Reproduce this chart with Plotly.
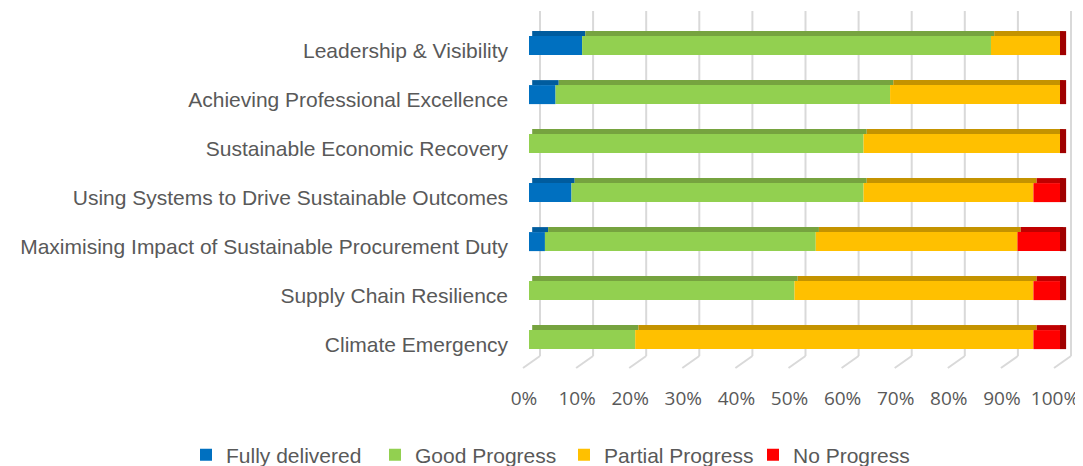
import numpy as np
import plotly.graph_objects as go

categories = [
    "Leadership & Visibility",
    "Achieving Professional Excellence",
    "Sustainable Economic Recovery",
    "Using Systems to Drive Sustainable Outcomes",
    "Maximising Impact of Sustainable Procurement Duty",
    "Supply Chain Resilience",
    "Climate Emergency",
]
fully_delivered = [10, 5, 0, 8, 3, 0, 0]
good_progress = [77, 63, 63, 55, 51, 50, 20]
partial_progress = [13, 32, 37, 32, 38, 45, 75]
no_progress = [0, 0, 0, 5, 8, 5, 5]
series_names = ["Fully delivered", "Good Progress", "Partial Progress", "No Progress"]
tick_values = list(range(0, 101, 10))
tick_labels = [f"{v}%" for v in tick_values]

front_colors = ["#0070C0", "#92D050", "#FFC000", "#FF0000"]
top_colors = ["#005C9E", "#76A33F", "#C49300", "#C00000"]
side_color = "#A00000"

# the page body has an 8px margin; work in screen pixels and convert
OFF = 8
W, H = 1083 - OFF, 480


def px_x(sx):
    return (sx - OFF) / W


def px_y(sy):
    return 1 - (sy - OFF) / H


series = [fully_delivered, good_progress, partial_progress, no_progress]
vals = np.array(series, dtype=float)
bases = np.vstack([np.zeros(vals.shape[1]), np.cumsum(vals, axis=0)[:-1]])
totals = vals.sum(axis=0)

# x scale: 0 -> 529 px, 100 -> 1060 px, with a little room either side
x0_px, x100_px = 529, 1060
ppu = (x100_px - x0_px) / 100
x_range = [-3, 103]
dom_left_px = x0_px + x_range[0] * ppu
x_dom = [px_x(dom_left_px), px_x(x0_px + x_range[1] * ppu)]
y_standoff = int(round(20 - (x0_px - dom_left_px)))

bar_w = 0.388
top_w = 0.102
lift = 0.10
bar_off = -bar_w / 2 - lift
top_off = bar_off - top_w

fig = go.Figure()
for i, name in enumerate(series_names):
    fig.add_trace(go.Bar(
        y=categories, x=vals[i], base=bases[i], orientation="h", name=name,
        width=bar_w, offset=bar_off,
        marker=dict(color=front_colors[i], line=dict(width=0)),
        hoverinfo="skip",
    ))
for i, name in enumerate(series_names):
    fig.add_trace(go.Bar(
        y=categories, x=vals[i], base=bases[i] + 0.6, orientation="h",
        width=top_w, offset=top_off, showlegend=False,
        marker=dict(color=top_colors[i], line=dict(width=0)), hoverinfo="skip",
    ))
fig.add_trace(go.Bar(
    y=categories, x=[1.15] * len(categories), base=totals, orientation="h",
    width=bar_w + top_w, offset=top_off, showlegend=False,
    marker=dict(color=side_color, line=dict(width=0)), hoverinfo="skip",
))

grid_top = px_y(11)
grid_bot = px_y(356)
shapes = []
for v in tick_values:
    shapes.append(dict(type="line", layer="below", xref="x", xsizemode="pixel",
                       xanchor=v, x0=11, x1=11, yref="paper", y0=grid_bot, y1=grid_top,
                       line=dict(color="#D9D9D9", width=2)))
    shapes.append(dict(type="line", layer="below", xref="x", xsizemode="pixel",
                       xanchor=v, x0=11, x1=-6, yref="paper", ysizemode="pixel",
                       yanchor=grid_bot, y0=0, y1=-12,
                       line=dict(color="#D9D9D9", width=2)))

fig.update_layout(
    width=W, height=H, barmode="overlay",
    margin=dict(l=0, r=0, t=0, b=0),
    paper_bgcolor="white", plot_bgcolor="rgba(0,0,0,0)",
    shapes=shapes,
    xaxis=dict(domain=x_dom, range=x_range, tickmode="array",
               tickvals=tick_values, ticktext=tick_labels,
               showgrid=False, zeroline=False, showline=False,
               ticks="", ticklabelstandoff=16, ticklabelshift=-5,
               tickfont=dict(family="Open Sans", size=19, color="#595959"),
               automargin=False),
    yaxis=dict(domain=[px_y(369), px_y(26)], autorange="reversed",
               type="category", showgrid=False, zeroline=False, showline=False,
               ticks="", ticklabelstandoff=y_standoff,
               tickfont=dict(family="Liberation Sans, Arial", size=21, color="#595959"),
               automargin=False),
    legend=dict(orientation="h", x=px_x(186), xanchor="left", y=px_y(455),
                yanchor="middle", font=dict(family="Liberation Sans, Arial", size=21,
                                             color="#595959"),
                itemwidth=30, entrywidth=144, bgcolor="rgba(0,0,0,0)"),
    showlegend=True,
)

fig.write_html("out.html")
